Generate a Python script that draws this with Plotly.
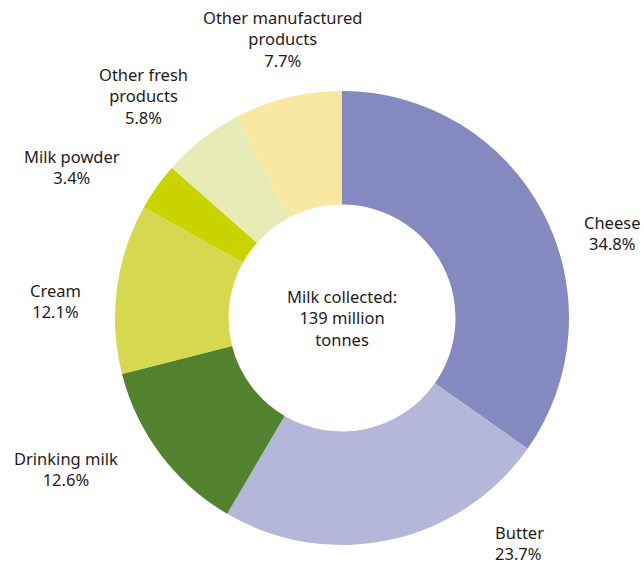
import plotly.graph_objects as go

# Use of collected milk, share of total (%)
categories = ["Cheese", "Butter", "Drinking milk", "Cream", "Milk powder",
              "Other fresh products", "Other manufactured products"]
shares = [34.8, 23.7, 12.6, 12.1, 3.4, 5.8, 7.7]
label_texts = ["Cheese", "Butter", "Drinking milk", "Cream", "Milk powder",
               "Other fresh<br>products", "Other manufactured<br>products"]
centre_text = "Milk collected:<br>139 million<br>tonnes"

colors = ["#8489bf", "#b4b7d9", "#52822d", "#d6d94f", "#c9d300", "#e7ebb5", "#f8e8a2"]

W, H = 644, 564
FONT = dict(family="Noto Sans, Open Sans, sans-serif", size=16.5, color="#1f1b1c")

# label anchor positions in pixels (x, y of the text block centre) and alignment
label_pos = [(612, 233, "center"), (493, 543, "left"), (66, 469, "center"),
             (55, 301, "center"), (72, 167, "center"), (143, 96, "center"),
             (282, 39, "center")]

fig = go.Figure(go.Pie(
    labels=categories,
    values=shares,
    hole=0.5,
    sort=False,
    direction="clockwise",
    rotation=0,
    marker=dict(colors=colors, line=dict(width=0)),
    textinfo="none",
    hovertemplate="%{label}: %{value}%<extra></extra>",
    domain=dict(x=[(342 - 227) / W, (342 + 227) / W],
                y=[1 - 545 / H, 1 - 91 / H]),
    showlegend=False,
))

annotations = []
for txt, val, (px, py, align) in zip(label_texts, shares, label_pos):
    annotations.append(dict(
        x=px / W, y=1 - py / H, xref="paper", yref="paper",
        text=f"{txt}<br>{val:.1f}%",
        showarrow=False, font=FONT, align=align,
        xanchor="left" if align == "left" else "center", yanchor="middle",
    ))
annotations.append(dict(
    x=342 / W, y=1 - 318 / H, xref="paper", yref="paper",
    text=centre_text, showarrow=False, font=FONT, align="center",
    xanchor="center", yanchor="middle",
))

fig.update_layout(
    width=W, height=H,
    margin=dict(l=0, r=0, t=0, b=0),
    paper_bgcolor="white", plot_bgcolor="white",
    annotations=annotations,
)

fig.write_html("out.html")
